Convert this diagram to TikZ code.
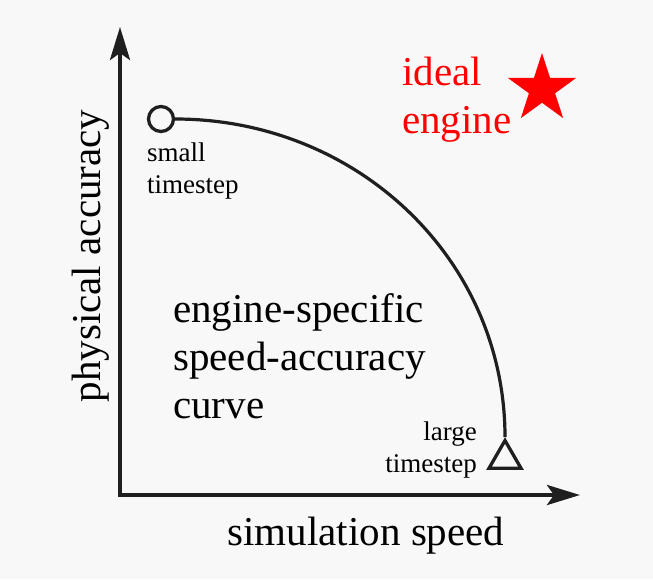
\documentclass[tikz,border=0pt]{standalone}
\usepackage{fontspec}
\setmainfont{Liberation Serif}
\usetikzlibrary{arrows.meta,shapes.geometric}
\definecolor{paper}{HTML}{F8F8F8}
\definecolor{ink}{HTML}{1F1F1F}
\begin{document}
\begin{tikzpicture}[x=1pt, y=-1pt,
  axis/.style={ink, line width=4pt, line join=miter, {Stealth[length=33pt,width=20pt,inset=7pt]}-{Stealth[length=33pt,width=20pt,inset=7pt]}},
  marker/.style={draw=ink, fill=paper, line width=3.3pt, inner sep=0pt},
  big/.style={font=\fontsize{41}{48}\selectfont, align=left, inner sep=0pt},
  note/.style={font=\fontsize{27}{32}\selectfont, inner sep=0pt}]
\fill[paper] (0,0) rectangle (653,579);
\coordinate (top) at (120,27);
\coordinate (origin) at (120,495);
\coordinate (right) at (580,495);
\draw[axis] (top) -- (origin) -- (right);
\node[marker, circle, minimum size=25pt] (small) at (161,119) {};
\node[marker, regular polygon, regular polygon sides=3, minimum size=37pt] (large) at (505,459) {};
\draw[ink, line width=3.2pt] (small.east) .. controls +(182,0) and +(0,-178) .. (large.corner 1);
\node[star, star points=5, star point ratio=2.618, fill=red, minimum size=72pt, inner sep=0pt] (ideal) at (542,89) {};
\node[note, align=left, anchor=base west] (smalltxt) at (147,193) {small\\timestep};
\node[note, align=right, anchor=base east] (largetxt) at (477,472) {large\\timestep};
\node[big, anchor=base west] (curvetxt) at (173,418) {engine-specific\\speed-accuracy\\curve};
\node[big, red, anchor=base west] (idealtxt) at (402,133) {ideal\\engine};
\node[big, anchor=base] (xlabel) at (366,545) {simulation speed};
\node[big, rotate=90, anchor=base] (ylabel) at (100,256) {physical accuracy};
\end{tikzpicture}
\end{document}
